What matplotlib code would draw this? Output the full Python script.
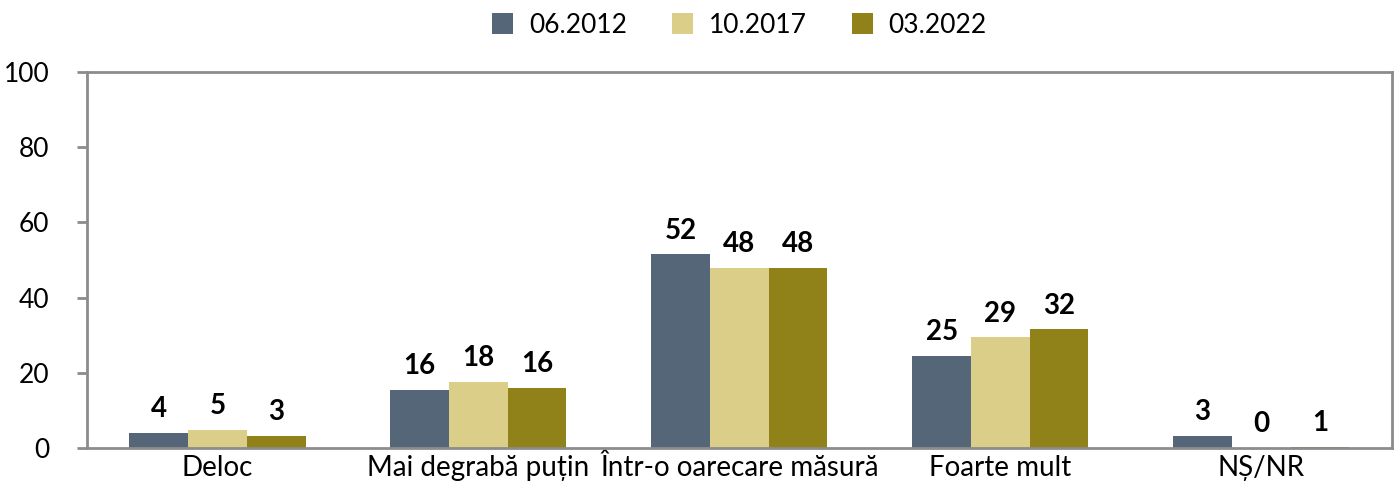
import numpy as np
import matplotlib.pyplot as plt

plt.rcParams['font.family'] = ['Lato', 'DejaVu Sans']

categories = ["Deloc", "Mai degrabă puțin", "Într-o oarecare măsură", "Foarte mult", "NȘ/NR"]
series = ["06.2012", "10.2017", "03.2022"]
values_2012 = [4.0, 15.5, 51.6, 24.5, 3.2]
values_2017 = [4.8, 17.6, 47.9, 29.5, 0.0]
values_2022 = [3.2, 16.0, 47.9, 31.6, 0.3]
labels_2012 = [4, 16, 52, 25, 3]
labels_2017 = [5, 18, 48, 29, 0]
labels_2022 = [3, 16, 48, 32, 1]
colors = ["#546678", "#DACE88", "#908119"]

fig = plt.figure(figsize=(13.94, 4.84), dpi=100)
ax = fig.add_axes([0.0624, 0.0744, 0.936, 0.7766])

x = np.arange(len(categories))
w = 0.225
all_vals = [values_2012, values_2017, values_2022]
all_labels = [labels_2012, labels_2017, labels_2022]
for i, (vals, labs) in enumerate(zip(all_vals, all_labels)):
    pos = x + (i - 1) * w
    ax.bar(pos, vals, width=w, color=colors[i], label=series[i], zorder=2)
    for p, v, l in zip(pos, vals, labs):
        ax.text(p, v + 2.8, str(l), ha="center", va="bottom",
                fontsize=20, fontweight="bold")

ax.set_xlim(-0.5, len(categories) - 0.5)
ax.set_ylim(0, 100)
ax.set_yticks(range(0, 101, 20))
ax.set_xticks(x)
ax.set_xticklabels(categories)
ax.tick_params(axis="x", length=0, labelsize=20, pad=5)
ax.tick_params(axis="y", length=7, width=2, color="#8c8c8c", labelsize=19, pad=20)
for s in ax.spines.values():
    s.set_color("#8c8c8c")
    s.set_linewidth(2)

ax.legend(loc="center", bbox_to_anchor=(0.5, 1.125), ncol=3, frameon=False,
          fontsize=19, handlelength=0.8, handleheight=0.8, columnspacing=1.7,
          handletextpad=0.6)

fig.savefig("out.png", dpi=100)
